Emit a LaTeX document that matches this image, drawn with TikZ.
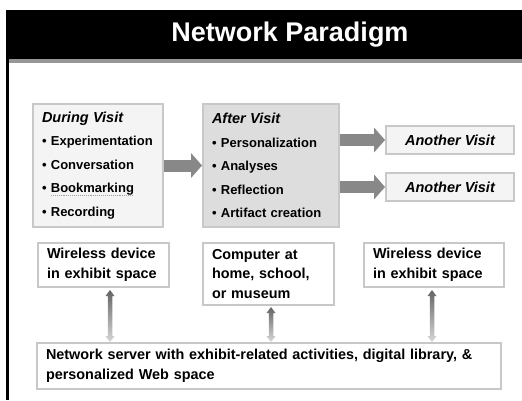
\documentclass[tikz,border=0pt]{standalone}
\usepackage{fontspec}
\setmainfont{Liberation Sans}
\usepackage{tikz}
\usetikzlibrary{arrows.meta,calc}

\definecolor{boxline}{RGB}{200,200,200}
\definecolor{palefill}{RGB}{244,244,244}
\definecolor{darkfill}{RGB}{221,221,221}
\definecolor{arrowgray}{RGB}{136,136,136}
\definecolor{headgray}{RGB}{150,150,150}
\definecolor{linkdark}{RGB}{100,100,100}
\definecolor{linklight}{RGB}{215,215,215}
\definecolor{dotgray}{RGB}{160,160,160}

\newsavebox{\wordbox}
\newcommand{\greydots}[1]{\sbox{\wordbox}{#1}%
  \rlap{\textcolor{dotgray}{\hbox to \wd\wordbox{\xleaders\hbox{\rule[-2.6pt]{1pt}{0.9pt}\hskip0.9pt}\hfill}}}#1}
\newcommand{\linkarrow}[2]{%
  \shade[top color=linkdark, bottom color=linklight]
    let \p1=#1, \p2=#2 in
    (\x1,\y1) -- ++(4.5pt,-6pt) -- ++(-2.25pt,0pt) -- (\x1+2.25pt,\y2+6pt)
    -- ++(2.25pt,0pt) -- (\x1,\y2) -- ++(-4.5pt,6pt) -- ++(2.25pt,0pt)
    -- (\x1-2.25pt,\y1-6pt) -- ++(-2.25pt,0pt) -- cycle;}

\begin{document}
\begin{tikzpicture}[x=1pt, y=-1pt,
    every node/.style={font=\bfseries},
    stage/.style={draw=boxline, line width=2pt, anchor=north west, align=left,
        inner xsep=9pt, inner ysep=0pt, font=\fontsize{13}{23.5}\selectfont\bfseries},
    revisit/.style={draw=boxline, line width=2pt, fill=palefill, anchor=north west,
        minimum width=128, minimum height=28, inner sep=0pt,
        font=\fontsize{14.5}{17}\selectfont\bfseries\itshape},
    place/.style={draw=boxline, line width=2pt, fill=white, anchor=north west, align=left,
        inner xsep=9pt, inner ysep=0pt, font=\fontsize{14.4}{19.5}\selectfont\bfseries},
    flow/.style={draw=arrowgray, line width=12pt,
        -{Triangle[width=25pt, length=11pt, line width=0pt]}}
]
\useasboundingbox (0,0) rectangle (522,400);

% header band
\fill[black] (6,10) rectangle (522,59);
\fill[headgray] (6,59) rectangle (522,63);
\fill[black] (6,10) rectangle (9,400);
\node[text=white, font=\fontsize{27}{30}\selectfont\bfseries] (title) at (290,35) {Network Paradigm};

% visits
\node[stage, fill=palefill, text width=112, minimum height=123] (during) at (32,103)
    {{\fontsize{14.5}{23.5}\selectfont\itshape During Visit}\\
     • Experimentation\\ • Conversation\\ • \greydots{Bookmarking}\\ • Recording};
\node[stage, fill=darkfill, text width=118, minimum height=123] (after) at (202,103)
    {{\fontsize{14.5}{23.5}\selectfont\itshape After Visit}\\
     • Personalization\\ • Analyses\\ • Reflection\\ • Artifact creation};
\node[revisit] (again1) at (385,125) {Another Visit};
\node[revisit] (again2) at (385,172) {Another Visit};

\draw[flow] (during) -- (after);
\draw[flow] (after.east |- again1.west) -- (again1.west);
\draw[flow] (after.east |- again2.west) -- (again2.west);

% devices and server
\node[place, text width=113, minimum height=44] (wireless1) at (37,242)
    {Wireless device\\in exhibit space};
\node[place, text width=113, minimum height=62] (computer) at (202,242)
    {Computer at\\home, school,\\or museum};
\node[place, text width=122, minimum height=44] (wireless2) at (363,242)
    {Wireless device\\in exhibit space};
\node[place, text width=446, minimum height=46] (server) at (36,342)
    {Network server with exhibit-related activities, digital library, \&\\personalized Web space};

\linkarrow{($(wireless1.south)+(6.5,2)$)}{(server.north)}
\linkarrow{($(computer.south)+(2.5,1)$)}{(server.north)}
\linkarrow{($(wireless2.south)+(-2,2)$)}{(server.north)}
\end{tikzpicture}
\end{document}
